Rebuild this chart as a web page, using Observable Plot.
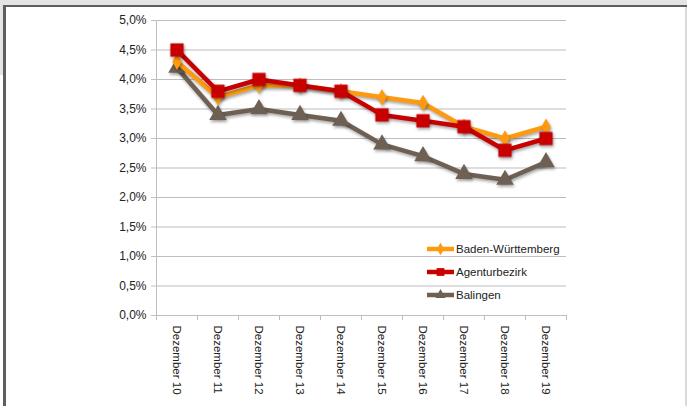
<!DOCTYPE html>
<html>
<head>
<meta charset="utf-8">
<script src="https://cdn.jsdelivr.net/npm/d3@7"></script>
<script src="https://cdn.jsdelivr.net/npm/@observablehq/plot@0.6"></script>
<style>
  html, body { margin: 0; padding: 0; background: #fff; }
  body { width: 687px; height: 406px; position: relative; overflow: hidden; font-family: "Liberation Sans", Arial, sans-serif; }
  .fr { position: absolute; }
  #chart { position: absolute; left: 0; top: 0; }
  .shadow { filter: drop-shadow(1px 2px 1.5px rgba(0,0,0,0.35)); }
  #legend { position: absolute; left: 427px; top: 237px; font-size: 11.5px; color: #222; }
  #legend .row { display: flex; align-items: center; height: 23px; }
  #legend svg { margin-right: 2px; }
</style>
</head>
<body>
<div class="fr" style="left:0;top:0;width:687px;height:5px;background:#e4e4e4"></div>
<div class="fr" style="left:0;top:0;width:3px;height:75px;background:#e4e4e4"></div>
<div class="fr" style="left:3px;top:5px;width:684px;height:2px;background:#5e5e5e"></div>
<div class="fr" style="left:3px;top:5px;width:3px;height:401px;background:#5e5e5e"></div>
<div class="fr" style="left:685px;top:7px;width:2px;height:399px;background:#dadada"></div>
<div id="chart"></div>
<div id="legend"></div>
<script>
const categories = ["Dezember 10","Dezember 11","Dezember 12","Dezember 13","Dezember 14","Dezember 15","Dezember 16","Dezember 17","Dezember 18","Dezember 19"];
const badenWuerttemberg = [4.3, 3.7, 3.9, 3.9, 3.8, 3.7, 3.6, 3.2, 3.0, 3.2];
const agenturbezirk     = [4.5, 3.8, 4.0, 3.9, 3.8, 3.4, 3.3, 3.2, 2.8, 3.0];
const balingen          = [4.2, 3.4, 3.5, 3.4, 3.3, 2.9, 2.7, 2.4, 2.3, 2.6];
const yTicks = [0, 0.5, 1.0, 1.5, 2.0, 2.5, 3.0, 3.5, 4.0, 4.5, 5.0];

const series = [
  {name: "Balingen", values: balingen, color: "#6e6153", symbol: "triangle", r: 6.5},
  {name: "Baden-Württemberg", values: badenWuerttemberg, color: "#ff9a10", symbol: "diamond", r: 5},
  {name: "Agenturbezirk", values: agenturbezirk, color: "#c80000", symbol: "square", r: 7.5}
];
const legendOrder = ["Baden-Württemberg", "Agenturbezirk", "Balingen"];

const idx = d3.range(categories.length);
const fmt = v => v.toFixed(1).replace(".", ",") + "%";

const marks = [
  Plot.gridY(yTicks, {stroke: "#bdbdbd", strokeOpacity: 1}),
  Plot.axisY(yTicks, {tickSize: 5, tickPadding: 5, tickFormat: fmt, fontSize: 12, stroke: "#bdbdbd", color: "#222", label: null}),
  Plot.axisX(d3.range(-0.5, categories.length, 1), {tickSize: 5, tickFormat: () => "", stroke: "#bdbdbd", label: null}),
  Plot.axisX(idx, {tickSize: 0, tickPadding: 10, tickRotate: 90, tickFormat: i => categories[i], fontSize: 11.5, fill: "#222", label: null}),
  Plot.frame({anchor: "left", stroke: "#bdbdbd"}),
  Plot.frame({anchor: "bottom", stroke: "#bdbdbd"})
];
for (const s of series) {
  const data = idx.map(i => ({i, v: s.values[i]}));
  marks.push(Plot.line(data, {x: "i", y: "v", stroke: s.color, strokeWidth: 4.5, className: "shadow"}));
  marks.push(Plot.dot(data, {x: "i", y: "v", symbol: () => s.symbol, fill: s.color, r: s.r, className: "shadow"}));
}

const chart = Plot.plot({
  width: 687,
  height: 406,
  marginLeft: 156,
  marginRight: 121,
  marginTop: 20,
  marginBottom: 91,
  style: {background: "transparent", fontFamily: "'Liberation Sans', Arial, sans-serif"},
  x: {type: "linear", domain: [-0.5, categories.length - 0.5], axis: null},
  y: {domain: [0, 5], axis: null},
  symbol: {type: "identity"},
  marks
});
document.getElementById("chart").appendChild(chart);

const legend = document.getElementById("legend");
for (const name of legendOrder) {
  const s = series.find(d => d.name === name);
  const row = document.createElement("div");
  row.className = "row";
  const sym = d3.symbol().type(s.symbol === "triangle" ? d3.symbolTriangle : s.symbol === "square" ? d3.symbolSquare : d3.symbolDiamond).size(s.symbol === "square" ? 60 : 45)();
  row.innerHTML = `<svg width="27" height="14"><line x1="0" x2="27" y1="7" y2="7" stroke="${s.color}" stroke-width="4.5"/><path transform="translate(13.5,7)" d="${sym}" fill="${s.color}"/></svg><span>${s.name}</span>`;
  legend.appendChild(row);
}
</script>
</body>
</html>
